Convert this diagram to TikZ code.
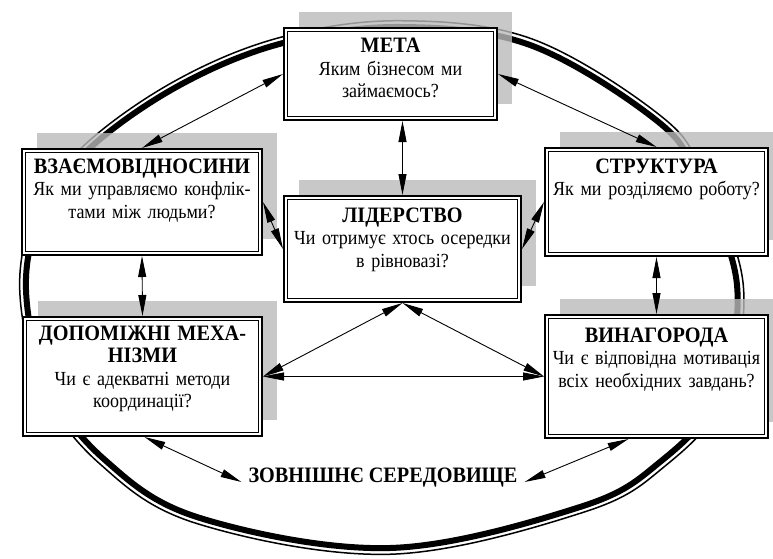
\documentclass[tikz,border=0pt]{standalone}
\usepackage{fontspec}
\setmainfont{Liberation Serif}
\newfontfamily\hdfam[FakeStretch=0.92]{Liberation Serif}
\newfontfamily\bdfam[FakeStretch=0.9]{Liberation Serif}
\usetikzlibrary{arrows.meta,shadows}
\newcommand{\hdfont}{\hdfam\bfseries\fontsize{22}{22.5}\selectfont}
\newcommand{\bdfont}{\bdfam\fontsize{20}{22.5}\selectfont}
\begin{document}
\begin{tikzpicture}[x=1pt,y=-1pt,
  box/.style={draw, line width=2pt, fill=white, inner sep=0pt, outer sep=1pt,
    drop shadow={shadow xshift=15pt, shadow yshift=16pt, fill=black!27, fill opacity=0.8, draw=none}},
  innerline/.style={line width=1pt},
  txt/.style={anchor=base, text width=300pt, align=center, font=\bdfont, inner sep=0pt},
  arr/.style={{Triangle[length=21pt,width=8pt]}-{Triangle[length=21pt,width=8pt]}, line width=0.9pt}
]
\useasboundingbox (0,0) rectangle (773,559);

% outer environment ellipse (thick inner line, thin outer line)
\draw[line width=6pt] plot[smooth cycle, tension=0.6] coordinates {(26,290) (42,212) (90,148) (180,85) (283,43) (400,27) (530,45) (656,120) (698,178) (737,285) (718,395) (660,462) (580,507) (390,548) (200,518) (105,460) (48,385)};
\begin{scope}[shift={(381.5,288)}, xscale=1.0176, yscale=1.024, shift={(-381.5,-288)}]
\draw[line width=1.5pt] plot[smooth cycle, tension=0.6] coordinates {(26,290) (42,212) (90,148) (180,85) (283,43) (400,27) (530,45) (656,120) (698,178) (737,285) (718,395) (660,462) (580,507) (390,548) (200,518) (105,460) (48,385)};
\end{scope}

% boxes
\node[box, minimum width=213pt, minimum height=92pt]  (meta) at (390.5,74) {};
\node[box, minimum width=240pt, minimum height=106pt] (vz)   at (142,202) {};
\node[box, minimum width=237pt, minimum height=106pt] (lid)  at (402.5,249) {};
\node[box, minimum width=223pt, minimum height=108pt] (str)  at (656.5,202) {};
\node[box, minimum width=239pt, minimum height=119pt] (dop)  at (142.5,376.5) {};
\node[box, minimum width=223pt, minimum height=123pt] (vyn)  at (656.5,376.5) {};
\foreach \b in {meta,vz,lid,str,dop,vyn}
  \draw[innerline] ([shift={(4.5,4.5)}]\b.north west) rectangle ([shift={(-4.5,-4.5)}]\b.south east);

% texts
\node[txt] (metaT) at (390.5,53) {{\hdfont МЕТА}\\Яким бізнесом ми\\займаємось?};
\node[txt] (vzT) at (142,173) {{\hdfont ВЗАЄМОВІДНОСИНИ}\\Як ми управляємо конфлік-\\тами між людьми?};
\node[txt] (lidT) at (402.5,222) {{\hdfont ЛІДЕРСТВО}\\Чи отримує хтось осередки\\в рівновазі?};
\node[txt] (strT) at (656.5,173) {{\hdfont СТРУКТУРА}\\Як ми розділяємо роботу?};
\node[txt] (dopT) at (142.5,340) {{\hdfont ДОПОМІЖНІ МЕХА-}\\{\hdfont НІЗМИ}\\Чи є адекватні методи\\координації?};
\node[txt] (vynT) at (656.5,342) {{\hdfont ВИНАГОРОДА}\\Чи є відповідна мотивація\\всіх необхідних завдань?};
\node[font=\hdfont, inner xsep=7pt, inner ysep=0pt, anchor=base] (env) at (383,482) {ЗОВНІШНЄ СЕРЕДОВИЩЕ};

% connectors
\draw[arr] (meta.west) -- (vz.north);
\draw[arr] (meta.east) -- (str.north);
\draw[arr] (lid.north |- meta.south) -- (lid.north);
\draw[arr] (vz.south) -- (dop.north);
\draw[arr] (str.south) -- (vyn.north);
\draw[arr] (vz.east) -- (lid.west);
\draw[arr] (lid.east) -- (str.west);
\draw[arr] (lid.south) -- (dop.east);
\draw[arr] (lid.south) -- (vyn.west);
\draw[arr] (dop.east) -- (vyn.west);
\draw[arr] ([xshift=2pt]dop.south) -- (env.base west);
\draw[arr] ([xshift=-28pt]vyn.south) -- (env.base east);
\end{tikzpicture}
\end{document}
